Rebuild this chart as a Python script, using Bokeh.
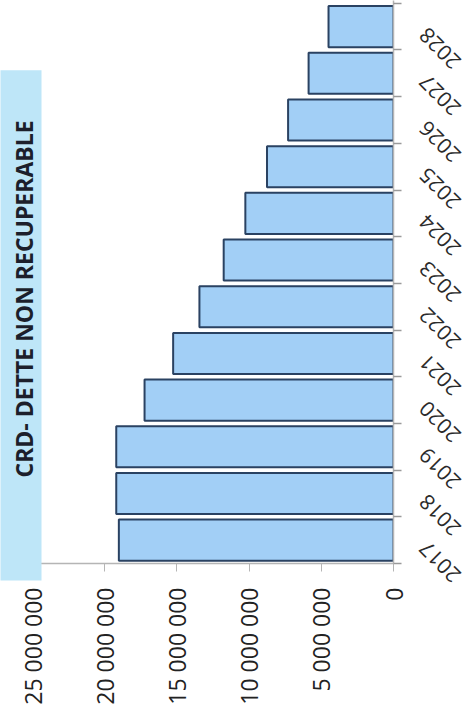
import math
from bokeh.plotting import figure
from bokeh.models import Range1d, FixedTicker, ColumnDataSource
from bokeh.core.properties import value
from bokeh.embed import file_html
from bokeh.resources import INLINE

# ---- data ----
years = [2017, 2018, 2019, 2020, 2021, 2022, 2023, 2024, 2025, 2026, 2027, 2028]
year_labels = [str(y) for y in years]
crd_values = [19020000, 19200000, 19200000, 17240000, 15260000, 13440000,
              11760000, 10260000, 8760000, 7300000, 5880000, 4500000]
value_ticks = [0, 5000000, 10000000, 15000000, 20000000, 25000000]
value_tick_labels = ["0", "5 000 000", "10 000 000", "15 000 000", "20 000 000", "25 000 000"]
chart_title = "CRD- DETTE NON RECUPERABLE"

src = ColumnDataSource(dict(y=years, v=crd_values, label=year_labels))

p = figure(width=467, height=726, output_backend="svg", toolbar_location=None,
           x_range=Range1d(value_ticks[-1], 0), y_range=Range1d(2016.5, 2028.56),
           y_axis_location="right",
           min_border_left=32, min_border_right=74, min_border_top=0,
           min_border_bottom=163, outline_line_color=None,
           background_fill_color="white", border_fill_color="white")

p.xgrid.visible = False
p.ygrid.visible = False

p.hbar(y="y", left=0, right="v", height=0.88, source=src,
       fill_color="#a2cff6", line_color="#2a4262", line_width=2)

# bottom (value) axis
xa = p.xaxis[0]
xa.ticker = FixedTicker(ticks=value_ticks, minor_ticks=[])
xa.major_label_overrides = {t: s for t, s in zip(value_ticks, value_tick_labels)}
xa.major_label_orientation = math.pi / 2
xa.major_label_text_font = "Open Sans"
xa.major_label_text_font_size = "23px"
xa.major_label_text_color = "#222222"
xa.major_label_standoff = 16
xa.axis_line_color = "#b5b5b5"
xa.axis_line_width = 1.5
xa.major_tick_line_color = "#b5b5b5"
xa.major_tick_in = 0
xa.major_tick_out = 8
xa.minor_tick_line_color = None

# right (year) axis: ticks between bars
boundaries = [y - 0.5 for y in years] + [years[-1] + 0.5]
ya = p.yaxis[0]
ya.ticker = FixedTicker(ticks=[], minor_ticks=boundaries)
ya.axis_line_color = "#b5b5b5"
ya.axis_line_width = 1.5
ya.major_tick_line_color = None
ya.minor_tick_line_color = "#9a9a9a"
ya.minor_tick_line_width = 1.5
ya.minor_tick_in = 0
ya.minor_tick_out = 8

# year labels, rotated like the scanned page
p.text(x=0, y="y", text="label", source=src, angle=135, angle_units="deg",
       text_align="right", text_baseline="middle", x_offset=29, y_offset=5,
       text_font=value("Open Sans"), text_font_size="21px", text_color="#2a2a2a",
       level="overlay")

# title in its light-blue band, reading bottom-to-top on the left
p.text(x=[value_ticks[-1]], y=[years[0] - 0.5], text=[chart_title],
       angle=90, angle_units="deg", anchor=value("top_left"),
       x_offset=-32, y_offset=17,
       padding=dict(left=103, right=50, top=7, bottom=2),
       background_fill_color="#bee6f8",
       text_font=value("Open Sans"), text_font_size="23px",
       text_font_style="bold", text_color="#1c1f2b", level="overlay")

open("out.html", "w").write(file_html(p, INLINE))
